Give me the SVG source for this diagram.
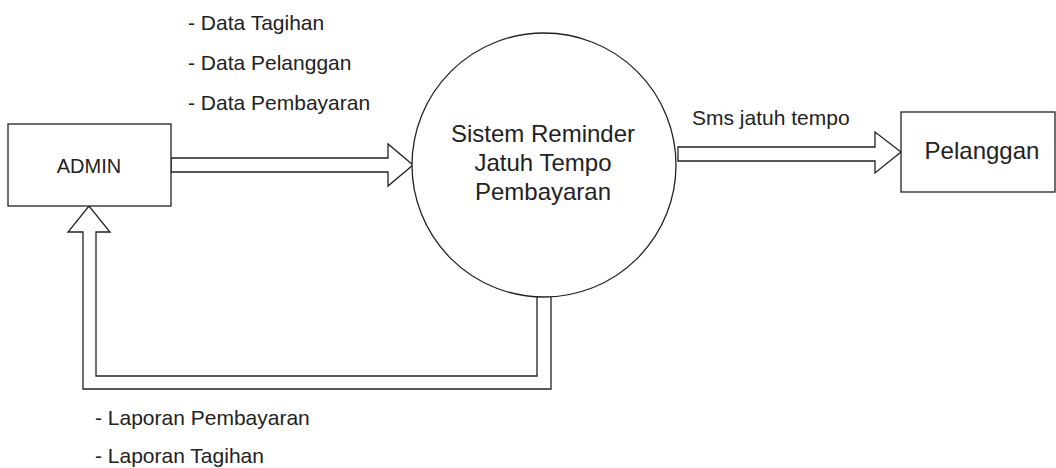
<svg xmlns="http://www.w3.org/2000/svg" width="1056" height="468" viewBox="0 0 1056 468">
  <style>
    .shape { fill: #ffffff; stroke: #222222; stroke-width: 1.3; }
    .flow { fill: #ffffff; stroke: #222222; stroke-width: 1.3; stroke-linejoin: miter; }
    text { font-family: "Liberation Sans", Arial, sans-serif; fill: #222222; }
    .lbl { font-size: 21px; }
    .node { font-size: 24px; text-anchor: middle; }
  </style>
  <rect width="1056" height="468" fill="#ffffff"/>
  <g id="connectors">
    <path id="admin-to-system" class="flow" d="M171,158 L388,158 L388,144 L413,165 L388,186 L388,172 L171,172 Z"/>
    <path id="system-to-pelanggan" class="flow" d="M678,147 L875,147 L875,132 L901,152 L875,173 L875,161 L678,161 Z"/>
    <path id="system-to-admin" class="flow" d="M551,296 L551,389 L83,389 L83,232 L68,232 L89,206 L110,232 L96,232 L96,376 L537,376 L537,296 Z"/>
  </g>
  <g id="admin">
    <rect class="shape" x="8" y="124" width="163" height="82"/>
    <text x="89" y="173" style="font-size:20px;text-anchor:middle">ADMIN</text>
  </g>
  <g id="system">
    <circle class="shape" cx="544" cy="165" r="132"/>
    <text class="node" x="543" y="142">Sistem Reminder</text>
    <text class="node" x="543" y="171">Jatuh Tempo</text>
    <text class="node" x="543" y="200">Pembayaran</text>
  </g>
  <g id="pelanggan">
    <rect class="shape" x="901" y="112" width="154" height="80"/>
    <text class="node" x="982" y="159">Pelanggan</text>
  </g>
  <g id="labels">
    <text class="lbl" x="188" y="30">- Data Tagihan</text>
    <text class="lbl" x="188" y="70">- Data Pelanggan</text>
    <text class="lbl" x="188" y="110">- Data Pembayaran</text>
    <text class="lbl" x="692" y="125">Sms jatuh tempo</text>
    <text class="lbl" x="95" y="425">- Laporan Pembayaran</text>
    <text class="lbl" x="95" y="463">- Laporan Tagihan</text>
  </g>
</svg>
